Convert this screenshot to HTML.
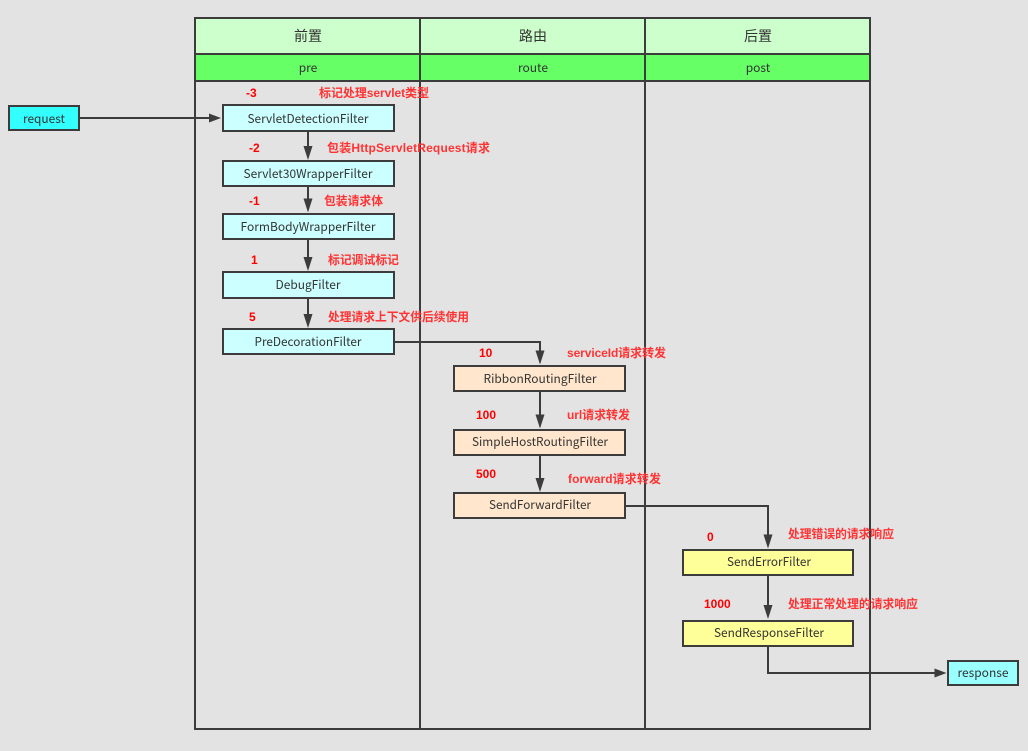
<!DOCTYPE html>
<html><head><meta charset="utf-8">
<style>
html,body{margin:0;padding:0;background:#e3e3e3;width:1028px;height:751px;overflow:hidden}
svg{display:block}
text{font-family:"Liberation Sans","Noto Sans CJK SC",sans-serif}
.n{font-family:"Noto Sans CJK SC","Liberation Sans",sans-serif;font-size:12px;fill:#333;text-anchor:middle}
.h{font-family:"Noto Sans CJK SC",sans-serif;font-size:14px;fill:#333;text-anchor:middle}
.r{font-size:12px;font-weight:bold;fill:#ff0000}
.a{font-family:"Liberation Sans","Noto Sans CJK SC",sans-serif;font-size:12px;font-weight:bold;fill:#ff3333}
.b{stroke:#3c3c3c;stroke-width:2}
.l{fill:none;stroke:#3c3c3c;stroke-width:2}
.t{fill:#3c3c3c}
</style></head><body>
<svg width="1028" height="751" viewBox="0 0 1028 751" xmlns="http://www.w3.org/2000/svg">
<rect width="1028" height="751" fill="#e3e3e3"/>
<rect x="195" y="18" width="675" height="36" fill="#ccffcc"/>
<rect x="195" y="54" width="675" height="27" fill="#66ff66"/>
<g class="l">
<rect x="195" y="18" width="675" height="711"/>
<path d="M195 54H870M195 81H870M420 18V729M645 18V729"/>
</g>
<text class="h" x="308" y="41">前置</text>
<text class="h" x="533" y="41">路由</text>
<text class="h" x="758" y="41">后置</text>
<text class="n" x="308" y="72">pre</text>
<text class="n" x="533" y="72">route</text>
<text class="n" x="758" y="72">post</text>

<g class="l">
<path d="M79 118H212"/>
<path d="M308 131V150M308 186V203M308 239V261M308 298V318"/>
<path d="M394 342H540V355"/>
<path d="M540 391V419M540 455V482"/>
<path d="M625 506H768V539"/>
<path d="M768 575V610"/>
<path d="M768 646V673H937"/>
</g>
<g class="t">
<path d="M221 118L209 113.5V122.5Z"/>
<path d="M308 160L303.5 146H312.5Z"/>
<path d="M308 212.5L303.5 198.5H312.5Z"/>
<path d="M308 271L303.5 257H312.5Z"/>
<path d="M308 328L303.5 314H312.5Z"/>
<path d="M540 364.5L535.5 350.5H544.5Z"/>
<path d="M540 428.5L535.5 414.5H544.5Z"/>
<path d="M540 492L535.5 478H544.5Z"/>
<path d="M768 548.5L763.5 534.5H772.5Z"/>
<path d="M768 619L763.5 605H772.5Z"/>
<path d="M946.5 673L934.5 668.5V677.5Z"/>
</g>

<rect class="b" x="9" y="106" width="70" height="24" fill="#33ffff"/>
<text class="n" x="44" y="123" textLength="42" lengthAdjust="spacingAndGlyphs">request</text>
<rect class="b" x="948" y="661" width="70" height="24" fill="#99ffff"/>
<text class="n" x="983" y="677" textLength="51" lengthAdjust="spacingAndGlyphs">response</text>

<g fill="#ccffff" class="b">
<rect x="223" y="105" width="171" height="26"/>
<rect x="223" y="161" width="171" height="25"/>
<rect x="223" y="214" width="171" height="25"/>
<rect x="223" y="272" width="171" height="26"/>
<rect x="223" y="329" width="171" height="25"/>
</g>
<g fill="#ffe6cc" class="b">
<rect x="454" y="366" width="171" height="25"/>
<rect x="454" y="430" width="171" height="25"/>
<rect x="454" y="493" width="171" height="25"/>
</g>
<g fill="#ffff99" class="b">
<rect x="683" y="550" width="170" height="25"/>
<rect x="683" y="621" width="170" height="25"/>
</g>

<text class="n" x="308" y="123" textLength="121" lengthAdjust="spacingAndGlyphs">ServletDetectionFilter</text>
<text class="n" x="308" y="178" textLength="129" lengthAdjust="spacingAndGlyphs">Servlet30WrapperFilter</text>
<text class="n" x="308" y="231" textLength="135" lengthAdjust="spacingAndGlyphs">FormBodyWrapperFilter</text>
<text class="n" x="308" y="289" textLength="65" lengthAdjust="spacingAndGlyphs">DebugFilter</text>
<text class="n" x="308" y="346" textLength="107" lengthAdjust="spacingAndGlyphs">PreDecorationFilter</text>
<text class="n" x="540" y="383" textLength="113" lengthAdjust="spacingAndGlyphs">RibbonRoutingFilter</text>
<text class="n" x="540" y="446" textLength="136" lengthAdjust="spacingAndGlyphs">SimpleHostRoutingFilter</text>
<text class="n" x="540" y="509" textLength="102" lengthAdjust="spacingAndGlyphs">SendForwardFilter</text>
<text class="n" x="769" y="566" textLength="84" lengthAdjust="spacingAndGlyphs">SendErrorFilter</text>
<text class="n" x="769" y="637" textLength="110" lengthAdjust="spacingAndGlyphs">SendResponseFilter</text>

<text class="r" x="246" y="97">-3</text>
<text class="r" x="249" y="152">-2</text>
<text class="r" x="249" y="205">-1</text>
<text class="r" x="251" y="264">1</text>
<text class="r" x="249" y="321">5</text>
<text class="r" x="479" y="357">10</text>
<text class="r" x="476" y="419">100</text>
<text class="r" x="476" y="478">500</text>
<text class="r" x="707" y="541">0</text>
<text class="r" x="704" y="608">1000</text>

<text class="a" x="319" y="97" textLength="110">标记处理servlet类型</text>
<text class="a" x="327" y="152" textLength="163">包装HttpServletRequest请求</text>
<text class="a" x="324" y="205" textLength="59" lengthAdjust="spacingAndGlyphs">包装请求体</text>
<text class="a" x="328" y="264" textLength="71" lengthAdjust="spacingAndGlyphs">标记调试标记</text>
<text class="a" x="328" y="321" textLength="141" lengthAdjust="spacingAndGlyphs">处理请求上下文供后续使用</text>
<text class="a" x="567" y="357" textLength="99">serviceId请求转发</text>
<text class="a" x="567" y="419" textLength="63">url请求转发</text>
<text class="a" x="568" y="483" textLength="93">forward请求转发</text>
<text class="a" x="788" y="538" textLength="106" lengthAdjust="spacingAndGlyphs">处理错误的请求响应</text>
<text class="a" x="788" y="608" textLength="130" lengthAdjust="spacingAndGlyphs">处理正常处理的请求响应</text>
</svg>
</body></html>
